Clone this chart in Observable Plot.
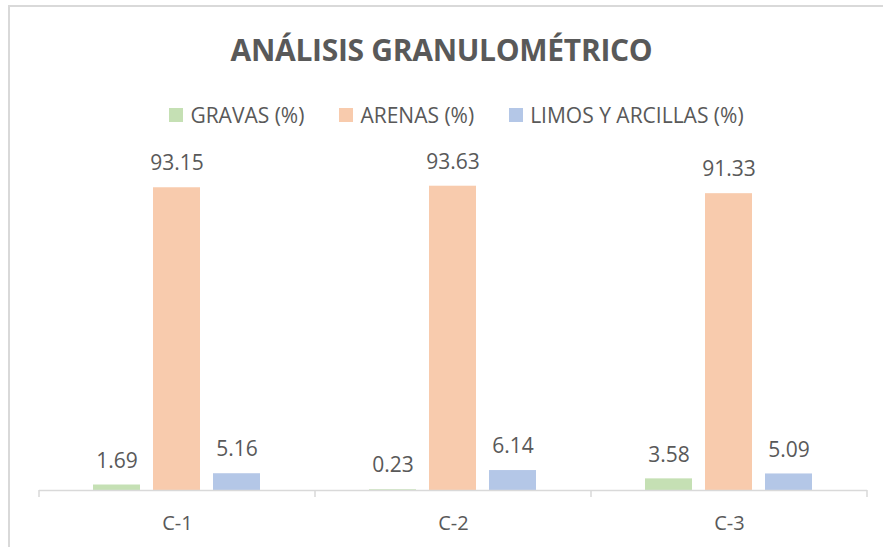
<!DOCTYPE html>
<html>
<head>
<meta charset="utf-8">
<script src="https://cdn.jsdelivr.net/npm/d3@7"></script>
<script src="https://cdn.jsdelivr.net/npm/@observablehq/plot@0.6"></script>
<style>
  html, body { margin: 0; padding: 0; background: #fff; }
  body { width: 883px; height: 547px; overflow: hidden; position: relative; font-family: "Open Sans", sans-serif; color: #595959; }
  #frame { position: absolute; left: 8px; top: 5px; width: 1000px; height: 1000px; border: 2px solid #d9d9d9; box-sizing: border-box; }
  #title { position: absolute; left: 0; width: 883px; top: 28px; text-align: center; font-weight: 700; font-size: 30px; line-height: 44px; letter-spacing: -0.3px; }
  #legend { position: absolute; left: 15px; width: 883px; top: 100px; display: flex; justify-content: center; gap: 35px; font-size: 21px; line-height: 30px; }
  #legend .item { display: flex; align-items: center; gap: 7px; }
  #legend .sw { width: 14px; height: 14px; display: inline-block; }
  #chart { position: absolute; left: 0; top: 140px; }
</style>
</head>
<body>
<div id="frame"></div>
<div id="title">ANÁLISIS GRANULOMÉTRICO</div>
<div id="legend"></div>
<div id="chart"></div>
<script>
const categories = ["C-1", "C-2", "C-3"];
const series = ["GRAVAS (%)", "ARENAS (%)", "LIMOS Y ARCILLAS (%)"];
const gravas = [1.69, 0.23, 3.58];
const arenas = [93.15, 93.63, 91.33];
const limos = [5.16, 6.14, 5.09];
const colors = ["#c5e0b4", "#f8cbad", "#b4c7e7"];

const seriesValues = [gravas, arenas, limos];
const data = categories.flatMap((c, i) =>
  series.map((s, j) => ({cat: c, serie: s, value: seriesValues[j][i]}))
);

// legend
const legend = document.getElementById("legend");
series.forEach((s, j) => {
  const item = document.createElement("div");
  item.className = "item";
  const sw = document.createElement("span");
  sw.className = "sw";
  sw.style.background = colors[j];
  const t = document.createElement("span");
  t.textContent = s;
  item.appendChild(sw);
  item.appendChild(t);
  legend.appendChild(item);
});

const chart = Plot.plot({
  width: 883,
  height: 407,
  marginLeft: 38,
  marginRight: 15,
  marginTop: 25,
  marginBottom: 57,
  style: {fontFamily: "Open Sans, sans-serif", color: "#595959", background: "transparent"},
  fx: {domain: categories, padding: 0, label: null},
  x: {domain: series, paddingInner: 0.213, paddingOuter: 0.874, axis: null},
  y: {domain: [0, 100], axis: null},
  color: {domain: series, range: colors},
  marks: [
    Plot.barY(data, {fx: "cat", x: "serie", y: "value", fill: "serie"}),
    Plot.text(data, {fx: "cat", x: "serie", y: "value", text: d => d.value.toFixed(2), dy: -24, fontSize: 21, fill: "#595959"}),
    Plot.ruleY([0], {stroke: "#d9d9d9", strokeWidth: 1.5}),
    Plot.axisFx({anchor: "bottom", tickSize: 0, tickPadding: 25, fontSize: 20, label: null, fill: "#595959"})
  ]
});

// category boundary ticks, positioned from the fx scale
const fx = chart.scale("fx");
const bounds = categories.map(c => fx.apply(c)).concat([fx.apply(categories[categories.length - 1]) + fx.bandwidth]);
const y0 = 407 - 57;
d3.select(chart).append("g")
  .selectAll("line").data(bounds).join("line")
  .attr("x1", d => d).attr("x2", d => d)
  .attr("y1", y0).attr("y2", y0 + 7)
  .attr("stroke", "#d9d9d9").attr("stroke-width", 1.5);

document.getElementById("chart").appendChild(chart);
</script>
</body>
</html>
